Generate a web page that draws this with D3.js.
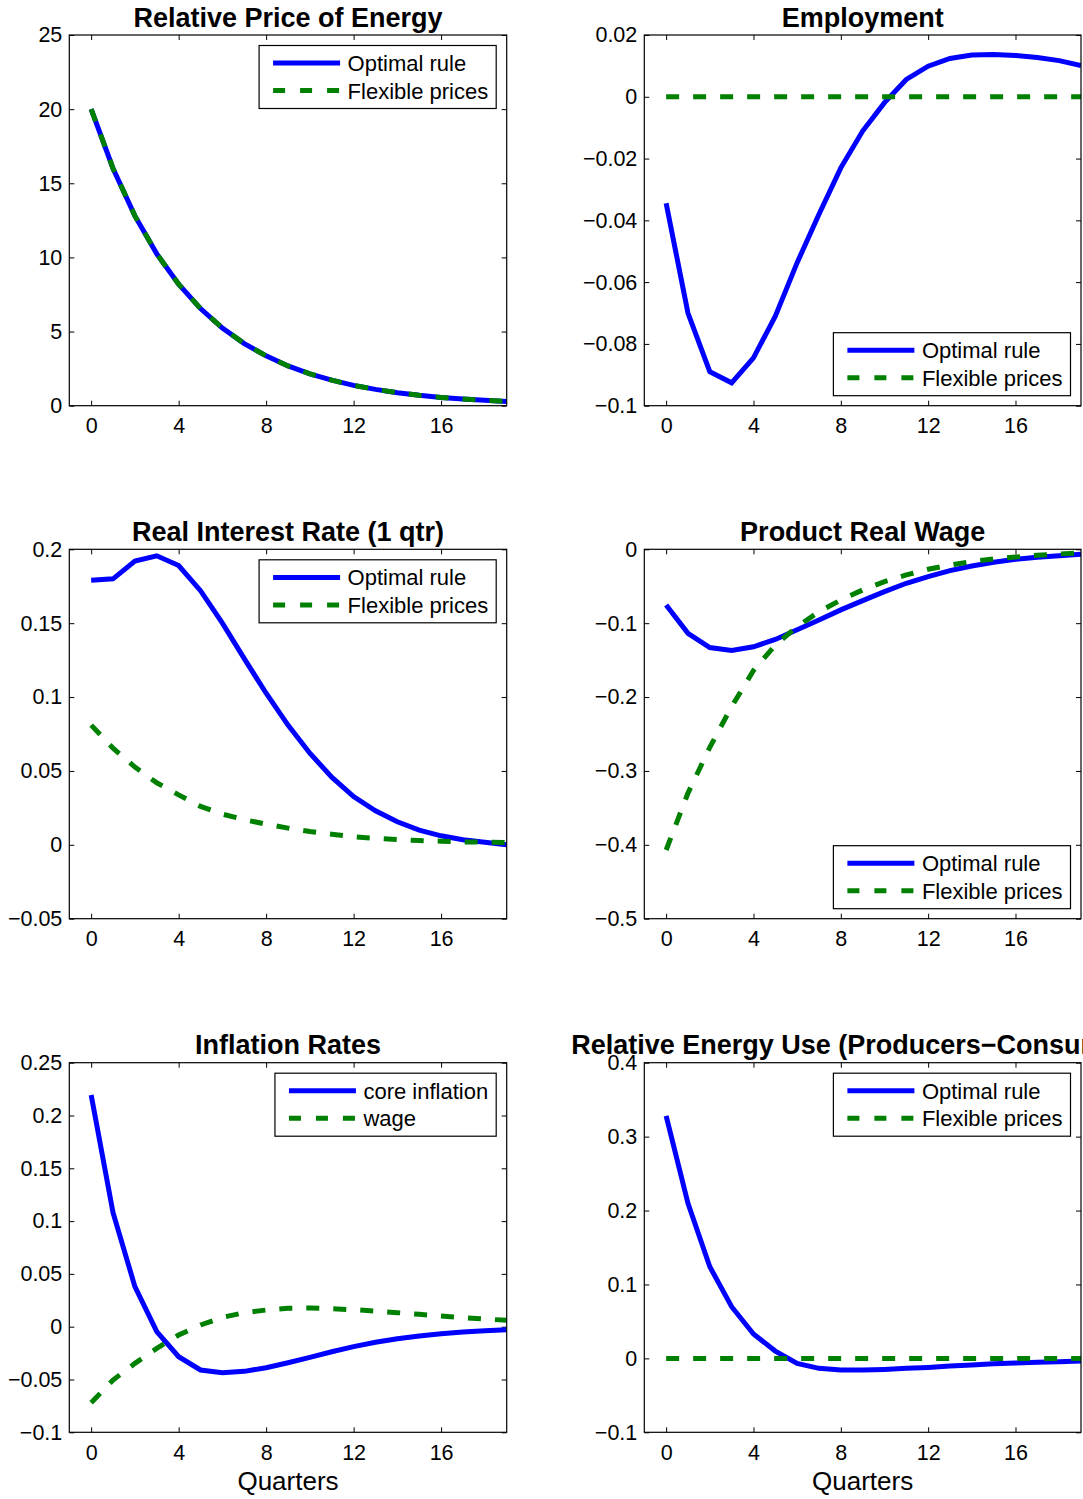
<!DOCTYPE html>
<html>
<head>
<meta charset="utf-8">
<script src="https://cdn.jsdelivr.net/npm/d3@7/dist/d3.min.js"></script>
<style>
body { margin: 0; background: #fff; }
svg text { font-family: "Liberation Sans", Arial, Helvetica, sans-serif; fill: #000; }
</style>
</head>
<body>
<svg width="1083" height="1499"></svg>
<script>
var svg = d3.select("svg");

// Data
var quarters = [0, 1, 2, 3, 4, 5, 6, 7, 8, 9, 10, 11, 12, 13, 14, 15, 16, 17, 18, 19];
var xTicks = [0, 4, 8, 12, 16];

var priceOptimal = [20, 16, 12.8, 10.24, 8.19, 6.55, 5.24, 4.19, 3.36, 2.68, 2.15, 1.72, 1.37, 1.10, 0.88, 0.70, 0.56, 0.45, 0.36, 0.29];
var priceFlex = [20, 16, 12.8, 10.24, 8.19, 6.55, 5.24, 4.19, 3.36, 2.68, 2.15, 1.72, 1.37, 1.10, 0.88, 0.70, 0.56, 0.45, 0.36, 0.29];

var employmentOptimal = [-0.0345, -0.070, -0.089, -0.0926, -0.0845, -0.071, -0.0537, -0.038, -0.023, -0.0111, -0.0019, 0.0056, 0.0099, 0.0124, 0.0135, 0.0137, 0.0134, 0.0127, 0.0117, 0.0101];
var employmentFlex = [0, 0, 0, 0, 0, 0, 0, 0, 0, 0, 0, 0, 0, 0, 0, 0, 0, 0, 0, 0];

var rateOptimal = [0.179, 0.180, 0.192, 0.1956, 0.189, 0.172, 0.150, 0.126, 0.1026, 0.081, 0.062, 0.0458, 0.0327, 0.023, 0.0156, 0.0099, 0.0061, 0.0034, 0.0018, 0.0];
var rateFlex = [0.081, 0.0654, 0.0526, 0.042, 0.0338, 0.026, 0.0208, 0.017, 0.014, 0.0113, 0.009, 0.0072, 0.0054, 0.0043, 0.0036, 0.0029, 0.0025, 0.002, 0.0018, 0.0016];

var wageOptimal = [-0.0754, -0.1137, -0.133, -0.137, -0.132, -0.122, -0.109, -0.0957, -0.082, -0.0695, -0.0573, -0.046, -0.037, -0.0289, -0.0226, -0.0176, -0.0135, -0.0108, -0.0086, -0.0068];
var wageFlex = [-0.407, -0.33, -0.268, -0.213, -0.164, -0.1295, -0.1047, -0.0844, -0.0686, -0.055, -0.0438, -0.0347, -0.027, -0.0212, -0.0167, -0.013, -0.0104, -0.0081, -0.0063, -0.005];

var coreInflation = [0.2194, 0.108, 0.0379, -0.0047, -0.0284, -0.041, -0.0436, -0.0423, -0.0388, -0.0341, -0.029, -0.0237, -0.0189, -0.0148, -0.0114, -0.0088, -0.0066, -0.005, -0.0038, -0.0028];
var wageInflation = [-0.072, -0.0505, -0.0347, -0.0205, -0.0079, 0.0016, 0.0088, 0.0133, 0.0158, 0.0174, 0.0177, 0.017, 0.0161, 0.0148, 0.0133, 0.0117, 0.0101, 0.0085, 0.0073, 0.006];

var energyOptimal = [0.328, 0.2097, 0.124, 0.0699, 0.0329, 0.0099, -0.0068, -0.0135, -0.0158, -0.0158, -0.0149, -0.0135, -0.0122, -0.0104, -0.009, -0.0072, -0.0063, -0.0054, -0.0045, -0.0036];
var energyFlex = [0, 0, 0, 0, 0, 0, 0, 0, 0, 0, 0, 0, 0, 0, 0, 0, 0, 0, 0, 0];

var titles = ["Relative Price of Energy", "Employment", "Real Interest Rate (1 qtr)", "Product Real Wage", "Inflation Rates", "Relative Energy Use (Producers\u2212Consumers)"];
var legendNames = [["Optimal rule", "Flexible prices"], ["core inflation", "wage"]];
var yTicks = [
    [0, 5, 10, 15, 20, 25],
    [-0.1, -0.08, -0.06, -0.04, -0.02, 0, 0.02],
    [-0.05, 0, 0.05, 0.1, 0.15, 0.2],
    [-0.5, -0.4, -0.3, -0.2, -0.1, 0],
    [-0.1, -0.05, 0, 0.05, 0.1, 0.15, 0.2, 0.25],
    [-0.1, 0, 0.1, 0.2, 0.3, 0.4]
];

var panels = [
    { title: titles[0], col: 0, row: 0, a: priceOptimal, b: priceFlex, ticks: yTicks[0], names: legendNames[0], legend: "top" },
    { title: titles[1], col: 1, row: 0, a: employmentOptimal, b: employmentFlex, ticks: yTicks[1], names: legendNames[0], legend: "bottom" },
    { title: titles[2], col: 0, row: 1, a: rateOptimal, b: rateFlex, ticks: yTicks[2], names: legendNames[0], legend: "top" },
    { title: titles[3], col: 1, row: 1, a: wageOptimal, b: wageFlex, ticks: yTicks[3], names: legendNames[0], legend: "bottom" },
    { title: titles[4], col: 0, row: 2, a: coreInflation, b: wageInflation, ticks: yTicks[4], names: legendNames[1], legend: "top", xlabel: "Quarters" },
    { title: titles[5], col: 1, row: 2, a: energyOptimal, b: energyFlex, ticks: yTicks[5], names: legendNames[0], legend: "top", xlabel: "Quarters" }
];

// Layout
var colX = [[69.3, 506.7], [644.3, 1081]];
var rowY = [[35, 405.7], [549.3, 918.7], [1062.7, 1432.3]];
var blue = "#0000ff";
var green = "#008000";
var lineW = 5;
var dash = "13,14";

function fmt(v) {
    var s = String(Math.abs(+v.toFixed(4)));
    return (v < 0 ? "\u2212" : "") + s;
}

panels.forEach(function(p, i) {
    var x0 = colX[p.col][0], x1 = colX[p.col][1];
    var y0 = rowY[p.row][0], y1 = rowY[p.row][1];
    var w = x1 - x0, h = y1 - y0;

    var x = d3.scaleLinear().domain([-1, 19]).range([0, w]);
    var y = d3.scaleLinear().domain([p.ticks[0], p.ticks[p.ticks.length - 1]]).range([h, 0]);

    var g = svg.append("g").attr("transform", "translate(" + x0 + "," + y0 + ")");

    g.append("clipPath")
        .attr("id", "clip" + i)
        .append("rect")
        .attr("width", w)
        .attr("height", h);

    // axes with inward ticks
    g.append("g")
        .attr("transform", "translate(0," + h + ")")
        .call(d3.axisBottom(x).tickValues(xTicks).tickSizeInner(-5).tickSizeOuter(0).tickPadding(12).tickFormat(fmt));
    g.append("g")
        .call(d3.axisLeft(y).tickValues(p.ticks).tickSizeInner(-5).tickSizeOuter(0).tickPadding(7).tickFormat(fmt));
    g.append("g")
        .call(d3.axisTop(x).tickValues(xTicks).tickSizeInner(-5).tickSizeOuter(0).tickFormat(""));
    g.append("g")
        .attr("transform", "translate(" + w + ",0)")
        .call(d3.axisRight(y).tickValues(p.ticks).tickSizeInner(-5).tickSizeOuter(0).tickFormat(""));

    g.selectAll(".domain").remove();
    g.selectAll(".tick line").attr("stroke", "#000").attr("stroke-width", 1);
    g.selectAll(".tick text").style("font-size", "21.5px").attr("fill", "#000");

    var line = d3.line()
        .x(function(d, k) { return x(quarters[k]); })
        .y(function(d) { return y(d); });

    var plot = g.append("g").attr("clip-path", "url(#clip" + i + ")");
    plot.append("path")
        .datum(p.a)
        .attr("d", line)
        .attr("fill", "none")
        .attr("stroke", blue)
        .attr("stroke-width", lineW);
    plot.append("path")
        .datum(p.b)
        .attr("d", line)
        .attr("fill", "none")
        .attr("stroke", green)
        .attr("stroke-width", lineW)
        .attr("stroke-dasharray", dash);

    // box
    g.append("rect")
        .attr("width", w)
        .attr("height", h)
        .attr("fill", "none")
        .attr("stroke", "#000")
        .attr("stroke-width", 1.2);

    // title
    g.append("text")
        .attr("x", w / 2)
        .attr("y", -8.5)
        .attr("text-anchor", "middle")
        .style("font-size", "27px")
        .style("font-weight", "bold")
        .text(p.title);

    if (p.xlabel) {
        g.append("text")
            .attr("x", w / 2)
            .attr("y", h + 57.5)
            .attr("text-anchor", "middle")
            .style("font-size", "26px")
            .text(p.xlabel);
    }

    // legend
    var lg = g.append("g");
    var box = lg.append("rect")
        .attr("fill", "#fff")
        .attr("stroke", "#000")
        .attr("stroke-width", 1.2);
    var maxLen = 0;
    p.names.forEach(function(name, k) {
        var ly = 17.6 + k * 27.5;
        lg.append("line")
            .attr("x1", 14).attr("x2", 81)
            .attr("y1", ly).attr("y2", ly)
            .attr("stroke", k === 0 ? blue : green)
            .attr("stroke-width", lineW)
            .attr("stroke-dasharray", k === 0 ? null : "12,15");
        var t = lg.append("text")
            .attr("x", 88.5)
            .attr("y", ly)
            .attr("dy", "0.36em")
            .style("font-size", "22px")
            .text(name);
        maxLen = Math.max(maxLen, t.node().getComputedTextLength());
    });
    var bw = 88.5 + maxLen + 8, bh = 63;
    box.attr("width", bw).attr("height", bh);
    var lx = w - 10.5 - bw;
    var ly0 = p.legend === "top" ? 10.5 : h - 10 - bh;
    lg.attr("transform", "translate(" + lx + "," + ly0 + ")");
});
</script>
</body>
</html>
